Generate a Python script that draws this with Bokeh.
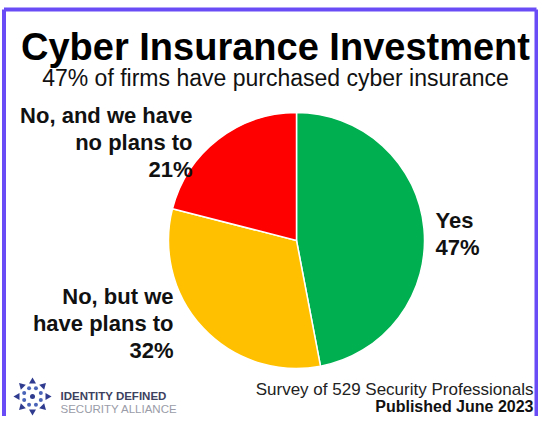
import numpy as np
from bokeh.plotting import figure
from bokeh.models import Range1d, ColumnDataSource
from bokeh.core.properties import value
from bokeh.embed import file_html
from bokeh.resources import INLINE

# ---- data ----
categories = ["Yes", "No, but we have plans to", "No, and we have no plans to"]
shares = [47, 32, 21]
colors = ["#00B050", "#FFC000", "#FF0000"]
label_lines = [["Yes", "47%"],
               ["No, but we", "have plans to", "32%"],
               ["No, and we have", "no plans to", "21%"]]
title = "Cyber Insurance Investment"
subtitle = "47% of firms have purchased cyber insurance"
source_note = "Survey of 529 Security Professionals"
published = "Published June 2023"
logo_lines = ["IDENTITY DEFINED", "SECURITY ALLIANCE"]

W, H = 538, 416
FONT = value("Liberation Sans")

p = figure(width=W, height=H, output_backend="svg", toolbar_location=None,
           x_range=Range1d(0, W), y_range=Range1d(0, H),
           x_axis_type=None, y_axis_type=None, min_border=0,
           outline_line_color=None, background_fill_color="white",
           border_fill_color="white")
p.grid.visible = False

# frame border (purple, open at bottom)
p.segment(x0=[3.5, 3.5, 536], y0=[0, 407, 0], x1=[3.5, 536, 536], y1=[407, 407, 407],
          line_color="#6a4cf7", line_width=4)

# ---- pie ----
cx, cy, r = 296, 176, 128
frac = np.array(shares, dtype=float) / sum(shares)
cum = np.concatenate([[0], np.cumsum(frac)])
start = np.pi / 2 - 2 * np.pi * cum[:-1]
end = np.pi / 2 - 2 * np.pi * cum[1:]
pie_src = ColumnDataSource(dict(start=start, end=end, color=colors, cat=categories))
p.wedge(x=cx, y=cy, radius=r, start_angle="start", end_angle="end",
        direction="clock", fill_color="color", line_color="white", line_width=1.5,
        source=pie_src)

# ---- slice labels ----
label_anchor = [(435, 196, "left"), (173, 120, "right"), (192, 301, "right")]
lh = 27
for lines, (lx, ly, align) in zip(label_lines, label_anchor):
    ys = [ly - i * lh for i in range(len(lines))]
    p.text(x=[lx] * len(lines), y=ys, text=lines, text_font=FONT,
           text_font_size="22px", text_font_style="bold", text_color="#111111",
           text_align=align, text_baseline="alphabetic")

# ---- titles ----
p.text(x=[275], y=[370], text=[title], text_font=FONT, text_font_size="38px",
       text_font_style="bold", text_color="#000000", text_align="center",
       text_baseline="alphabetic")
p.text(x=[275], y=[339], text=[subtitle], text_font=FONT, text_font_size="23px",
       text_color="#111111", text_align="center", text_baseline="alphabetic")

# ---- footer ----
p.text(x=[533], y=[27], text=[source_note], text_font=FONT, text_font_size="17px",
       text_color="#222222", text_align="right", text_baseline="alphabetic")
p.text(x=[533], y=[10], text=[published], text_font=FONT, text_font_size="16px",
       text_font_style="bold", text_color="#111111", text_align="right",
       text_baseline="alphabetic")

# ---- logo ----
lcx, lcy = 32, 20
ang_o = np.pi / 2 + np.arange(8) * 2 * np.pi / 8
p.scatter(x=lcx + 15 * np.cos(ang_o), y=lcy + 15 * np.sin(ang_o), marker="triangle",
          size=7, angle=ang_o - np.pi / 2, fill_color="#2f3b8f", line_color=None)
ang_m = np.pi / 8 + np.arange(8) * 2 * np.pi / 8
p.scatter(x=lcx + 9 * np.cos(ang_m), y=lcy + 9 * np.sin(ang_m), marker="circle",
          size=4, fill_color="#4a64b8", line_color=None)
p.scatter(x=[lcx], y=[lcy], marker="circle", size=5, fill_color="#2f3b8f", line_color=None)
p.text(x=[60], y=[21], text=[logo_lines[0]], text_font=FONT, text_font_size="11.5px",
       text_font_style="bold", text_color="#3d4160",
       text_align="left", text_baseline="alphabetic")
p.text(x=[60], y=[8], text=[logo_lines[1]], text_font=FONT, text_font_size="11.5px",
       text_color="#9a9ca8", text_align="left", text_baseline="alphabetic")

open("out.html", "w").write(file_html(p, INLINE))
